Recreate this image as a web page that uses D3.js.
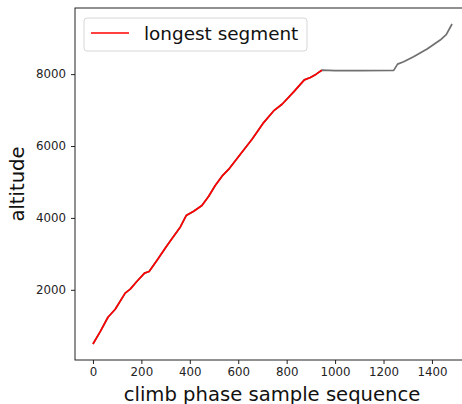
<!DOCTYPE html>
<html>
<head>
<meta charset="utf-8">
<script src="https://cdn.jsdelivr.net/npm/d3@7"></script>
<style>
  body { margin: 0; background: #fff; }
  svg { display: block; font-family: "DejaVu Sans", sans-serif; }
</style>
</head>
<body>
<svg id="chart" width="462" height="404"></svg>
<script>
// climb phase samples
var seq = [0, 30, 62, 92, 133, 154, 181, 213, 232, 264, 299, 323, 361, 385, 416, 450, 478,
  505, 533, 560, 608, 657, 705, 746, 781, 829, 873, 898, 922, 945,
  1000, 1100, 1242, 1258, 1283, 1324, 1380, 1434, 1459, 1483];
var alt = [492, 836, 1237, 1460, 1906, 2018, 2230, 2465, 2510, 2817, 3163, 3395, 3749, 4065, 4185, 4344, 4604,
  4902, 5162, 5349, 5767, 6186, 6652, 6976, 7163, 7506, 7841, 7907, 8000, 8110,
  8100, 8100, 8105, 8279, 8343, 8483, 8698, 8949, 9097, 9395];
var segmentEnd = 945;   // last sample of the longest segment
var xTicks = [0, 200, 400, 600, 800, 1000, 1200, 1400];
var yTicks = [2000, 4000, 6000, 8000];
var legendLabel = "longest segment";

var svg = d3.select("#chart");
var margin = {top: 8, right: -8, bottom: 44, left: 75};
var width = 462 - margin.left - margin.right, height = 404 - margin.top - margin.bottom;

var points = seq.map(function(s, i) { return {s: s, a: alt[i]}; });
var segment = points.filter(function(d) { return d.s <= segmentEnd; });

function padded(ext) {
  var p = (ext[1] - ext[0]) * 0.05;
  return [ext[0] - p, ext[1] + p];
}
var x = d3.scaleLinear().domain(padded(d3.extent(seq))).range([0, width]);
var y = d3.scaleLinear().domain(padded(d3.extent(alt))).range([height, 0]);

var g = svg.append("g").attr("transform", "translate(" + margin.left + "," + margin.top + ")");

var line = d3.line()
  .x(function(d) { return x(d.s); })
  .y(function(d) { return y(d.a); });

g.append("path").datum(points)
  .attr("d", line).attr("fill", "none")
  .attr("stroke", "#707070").attr("stroke-width", 1.7).attr("stroke-linejoin", "round");
g.append("path").datum(segment)
  .attr("d", line).attr("fill", "none")
  .attr("stroke", "red").attr("stroke-width", 1.7).attr("stroke-linejoin", "round");

// axes
var fmt = d3.format("d");
var xAxis = g.append("g").attr("transform", "translate(0," + height + ")")
  .call(d3.axisBottom(x).tickValues(xTicks).tickFormat(fmt).tickSize(4).tickPadding(4).tickSizeOuter(0));
var yAxis = g.append("g")
  .call(d3.axisLeft(y).tickValues(yTicks).tickFormat(fmt).tickSize(4).tickPadding(5).tickSizeOuter(0));
[xAxis, yAxis].forEach(function(a) {
  a.selectAll("text").attr("font-size", "11.8px").attr("font-family", "DejaVu Sans").attr("fill", "#222");
  a.selectAll("line").attr("stroke", "#222");
  a.select(".domain").remove();
});

// spines
g.append("rect").attr("width", width).attr("height", height)
  .attr("fill", "none").attr("stroke", "#222").attr("stroke-width", 1);

// axis labels
svg.append("text")
  .attr("x", 272).attr("y", 401)
  .attr("text-anchor", "middle").attr("font-size", "19.6px").attr("fill", "#111")
  .text("climb phase sample sequence");
svg.append("text")
  .attr("transform", "translate(24," + (margin.top + height / 2) + ")rotate(-90)")
  .attr("text-anchor", "middle").attr("font-size", "19.6px").attr("fill", "#111")
  .text("altitude");

// legend
var leg = svg.append("g").attr("transform", "translate(84,18)");
leg.append("rect").attr("width", 223).attr("height", 33).attr("rx", 3)
  .attr("fill", "#fff").attr("fill-opacity", 0.8)
  .attr("stroke", "#d6d6d6").attr("stroke-width", 1);
leg.append("line").attr("x1", 7).attr("x2", 45).attr("y1", 15).attr("y2", 15)
  .attr("stroke", "red").attr("stroke-width", 1.6);
leg.append("text").attr("x", 60).attr("y", 21.5)
  .attr("font-size", "18.4px").attr("fill", "#111")
  .text(legendLabel);
</script>
</body>
</html>
